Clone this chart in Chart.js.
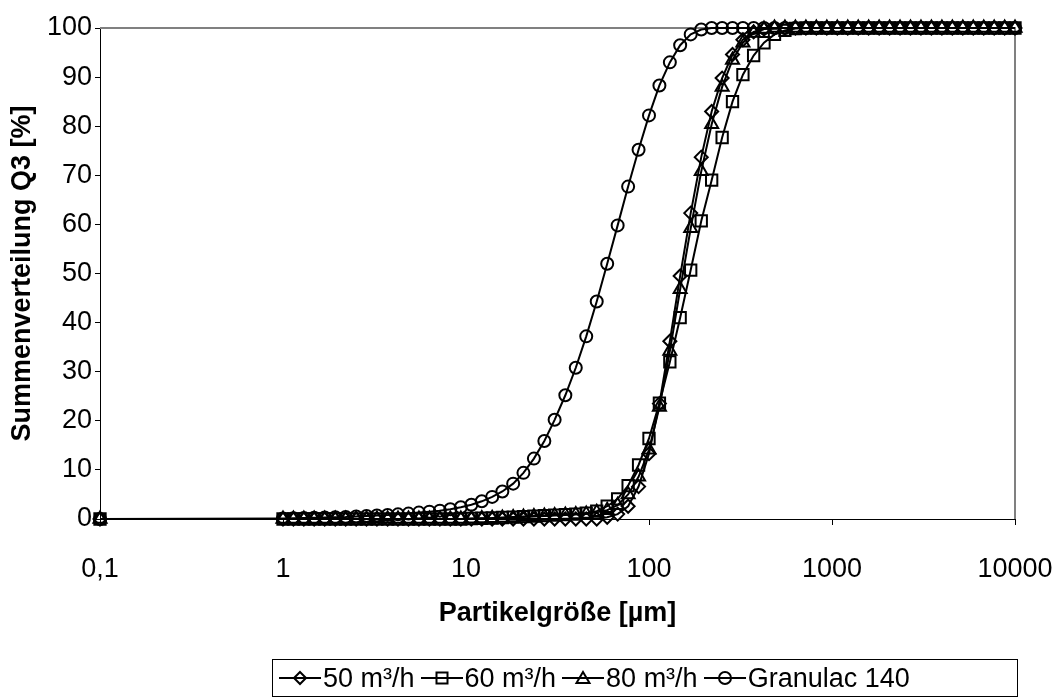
<!DOCTYPE html>
<html>
<head>
<meta charset="utf-8">
<script src="https://cdn.jsdelivr.net/npm/chart.js@4"></script>
<style>
  html, body { margin:0; padding:0; background:#fff; }
  #wrap { position:relative; width:1058px; height:699px; }
  #legend { position:absolute; left:272px; top:659px; width:740px; height:36px; border:1px solid #000; box-sizing:content-box;
    display:flex; align-items:center; padding-left:4px; font-family:"Liberation Sans", Arial, sans-serif; font-size:27px; color:#000; white-space:nowrap; }
  .item { display:flex; align-items:center; margin-left:2px; margin-right:4px; }
  .item svg { margin-right:2px; }
</style>
</head>
<body>
<div id="wrap">
<canvas id="c" width="1058" height="699"></canvas>
<div id="legend"></div>
</div>
<script>
const seriesNames = ['50 m³/h', '60 m³/h', '80 m³/h', 'Granulac 140'];
const pointStyles = ['rectRot', 'rect', 'triangle', 'circle'];
const xTickValues = [0.1, 1, 10, 100, 1000, 10000];
const xTickLabels = ['0,1', '1', '10', '100', '1000', '10000'];
const particleSizes = [0.1, 1, 1.14, 1.30, 1.48, 1.69, 1.93, 2.20, 2.51, 2.86, 3.26, 3.73, 4.25, 4.85, 5.53, 6.31, 7.20, 8.21, 9.37,
  10.7, 12.2, 13.9, 15.8, 18.1, 20.6, 23.5, 26.8, 30.5, 34.9, 39.8, 45.4, 51.8, 59.1, 67.4, 76.9, 87.7,
  100, 114, 130, 148, 169, 193, 220, 251, 286, 326, 373, 425, 485, 553, 631, 720, 821, 937,
  1069, 1219, 1391, 1586, 1810, 2064, 2354, 2685, 3063, 3494, 3986, 4547, 5186, 5916, 6748, 7697, 8780, 10000];
const q3_50 = [0,
  0,0,0,0,0,0,0,0,0,0, 0,0,0,0,0,0,0,0,0,0, 0,0,0,0,0,0,0,0,0,0, 0,
  0.35,1,2.6,6.6,13.3,23.5,36.2,49.5,62.3,73.7,83,89.8,94.6,97.6,99.2,99.8,
  100,100,100,100,100,100,100,100,100,100,100,100,100,100,100,100,100,100,100,100,100,100,100,100];
const q3_60 = [0,
  0,0,0,0,0,0,0,0,0,0, 0,0,0,0,0,0,0,0,
  0.1,0.15,0.2,0.3,0.4,0.5,0.6,0.7,0.8,0.9,1.0,1.2,
  1.6,2.6,4.1,6.8,11,16.4,23.6,32,41,50.7,60.7,69,77.7,85,90.5,94.4,97,98.7,99.5,99.9,
  100,100,100,100,100,100,100,100,100,100,100,100,100,100,100,100,100,100,100,100,100];
const q3_80 = [0,
  0,0,0,0,0,0,0,0,0,0, 0,0,0,0,0,0,0,0,
  0.05,0.1,0.15,0.2,0.3,0.4,0.5,0.6,0.7,0.8,0.9,1.0,
  1.35,1.8,2.8,5,8.6,14.1,22.8,34.2,46.8,59.2,70.8,80.4,88,93.5,97,99,99.8,
  100,100,100,100,100,100,100,100,100,100,100,100,100,100,100,100,100,100,100,100,100,100,100,100];
const q3_granulac = [0,
  0.1,0.15,0.2,0.25,0.3,0.35,0.4,0.5,0.6,0.7,0.8,0.95,1.1,1.3,1.5,1.7,2.0,2.4,2.9,3.6,4.5,5.6,7.2,9.4,12.3,15.9,
  20.2,25.2,30.8,37.2,44.3,52.0,59.8,67.7,75.2,82.2,88.3,93.0,96.5,98.7,99.7,
  100,100,100,100,100,100,100,100,100,100,100,100,100,100,100,100,100,100,100,100,100,100,100,100,100,100,100,100,100,100];
const allSeries = [q3_50, q3_60, q3_80, q3_granulac];
const pointRadii = [6.5, 8, 7.5, 6];

const FONT = '"Liberation Sans", Arial, sans-serif';

const datasets = allSeries.map((vals, k) => ({
  label: seriesNames[k],
  data: particleSizes.map((x, i) => ({x: x, y: vals[i]})),
  borderColor: '#000',
  borderWidth: 2,
  pointStyle: pointStyles[k],
  pointRadius: pointRadii[k],
  pointBorderColor: '#000',
  pointBorderWidth: 2,
  pointBackgroundColor: 'rgba(0,0,0,0)',
  tension: 0,
  clip: false
}));

const frame = {
  id: 'frame',
  beforeDatasetsDraw(chart) {
    const a = chart.chartArea, ctx = chart.ctx;
    ctx.save();
    ctx.strokeStyle = '#808080';
    ctx.lineWidth = 2;
    ctx.beginPath();
    ctx.moveTo(a.left, a.top);
    ctx.lineTo(a.right, a.top);
    ctx.lineTo(a.right, a.bottom);
    ctx.stroke();
    ctx.restore();
  }
};

new Chart(document.getElementById('c'), {
  type: 'line',
  data: { datasets },
  plugins: [frame],
  options: {
    responsive: false,
    animation: false,
    layout: { padding: { top: 28, right: 43, left: 0, bottom: 0 } },
    plugins: { legend: { display: false }, tooltip: { enabled: false } },
    scales: {
      x: {
        type: 'logarithmic', min: 0.1, max: 10000,
        afterBuildTicks: s => { s.ticks = xTickValues.map(v => ({ value: v })); },
        afterFit: s => { s.height = 180; s.paddingLeft = 0; s.paddingRight = 0; },
        ticks: { callback: (v, i) => xTickLabels[i], color: '#000', font: { family: FONT, size: 27 },
                 maxRotation: 0, autoSkip: false, padding: 28 },
        grid: { drawOnChartArea: false, drawTicks: true, tickLength: 6, color: '#000', lineWidth: 1 },
        border: { display: true, color: '#000', width: 1 },
        title: { display: true, text: 'Partikelgröße [µm]', color: '#000',
                 font: { family: FONT, size: 27, weight: 'bold' }, padding: { top: 0, bottom: 69 } }
      },
      y: {
        min: 0, max: 100,
        afterFit: s => { s.width = 100; },
        ticks: { stepSize: 10, color: '#000', font: { family: FONT, size: 27 }, padding: 3 },
        grid: { drawOnChartArea: false, drawTicks: true, tickLength: 5, color: '#000', lineWidth: 1 },
        border: { display: true, color: '#000', width: 1 },
        title: { display: true, text: 'Summenverteilung Q3 [%]', color: '#000',
                 font: { family: FONT, size: 27, weight: 'bold' }, padding: { top: 6, bottom: 0 } }
      }
    }
  }
});

// HTML legend with line + marker samples
const svgMarker = {
  rectRot: '<polygon points="21,5 27,11 21,17 15,11" fill="none" stroke="#000" stroke-width="2"/>',
  rect: '<rect x="15.5" y="5.5" width="11" height="11" fill="none" stroke="#000" stroke-width="2"/>',
  triangle: '<polygon points="21,5 27.5,16 14.5,16" fill="none" stroke="#000" stroke-width="2"/>',
  circle: '<circle cx="21" cy="11" r="6" fill="none" stroke="#000" stroke-width="2"/>'
};
const leg = document.getElementById('legend');
seriesNames.forEach((name, k) => {
  const d = document.createElement('div');
  d.className = 'item';
  d.innerHTML = '<svg width="42" height="22" viewBox="0 0 42 22"><line x1="0" y1="11" x2="42" y2="11" stroke="#000" stroke-width="2"/>' +
    svgMarker[pointStyles[k]] + '</svg><span>' + name + '</span>';
  leg.appendChild(d);
});
</script>
</body>
</html>
